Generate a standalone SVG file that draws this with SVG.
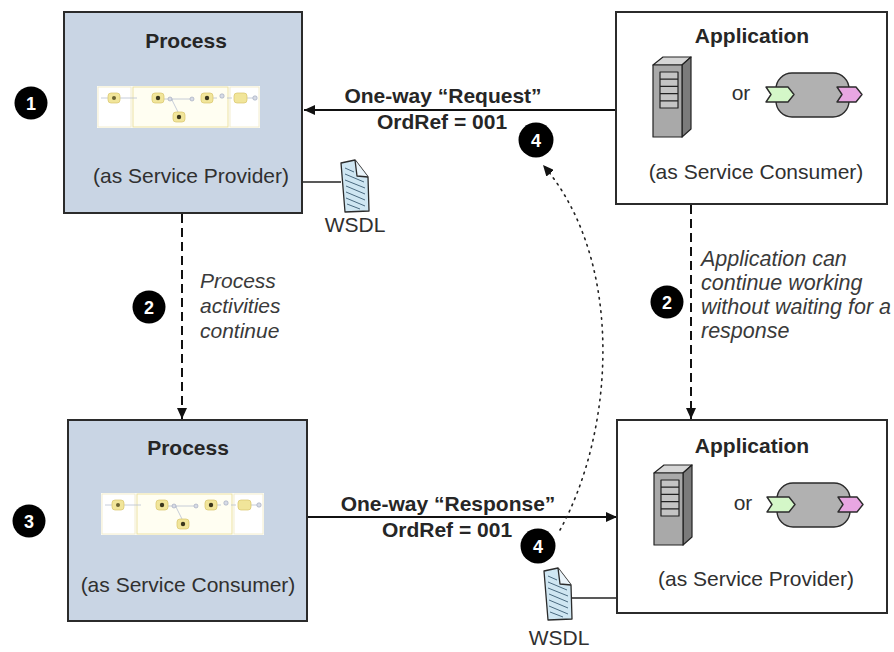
<svg xmlns="http://www.w3.org/2000/svg" xmlns:xlink="http://www.w3.org/1999/xlink" width="894" height="652" viewBox="0 0 894 652">
  <style>
    text { font-family: "Liberation Sans", Arial, sans-serif; fill: #262626; }
    .title { font-size: 21px; font-weight: bold; text-anchor: middle; }
    .role { font-size: 21px; text-anchor: middle; fill: #303030; }
    .msg { font-size: 21px; font-weight: bold; text-anchor: middle; }
    .note { font-size: 21px; font-style: italic; fill: #3a3a3a; }
    .note-wide { font-size: 21.5px; }
    .badge circle { fill: #000; }
    .badge text { font-size: 18px; font-weight: bold; fill: #fff; text-anchor: middle; }
    .proc { fill: #c9d5e4; stroke: #2b2b2b; stroke-width: 2; }
    .app { fill: #fff; stroke: #2b2b2b; stroke-width: 2; }
    .flow { stroke: #111; stroke-width: 1.8; fill: none; }
    .dash { stroke: #111; stroke-width: 2; fill: none; stroke-dasharray: 9 5; }
    .dots { stroke: #222; stroke-width: 1.6; fill: none; stroke-dasharray: 1.6 5.2; stroke-linecap: round; }
    .tie { stroke: #222; stroke-width: 1.6; fill: none; }
  </style>
  <defs>
    <marker id="head" markerUnits="userSpaceOnUse" markerWidth="12" markerHeight="10" refX="11" refY="5" orient="auto">
      <path d="M0,0 L11,5 L0,10 Z" fill="#111"/>
    </marker>
    <!-- small BPMN process thumbnail -->
    <g id="bpmn">
      <rect x="0" y="0" width="163" height="42" fill="#fdfdf8"/>
      <rect x="1" y="1" width="33" height="40" fill="#fff" stroke="#efe9c4" stroke-width="0.8"/>
      <rect x="36" y="1" width="95" height="40" fill="#fffef2" stroke="#eadf9c" stroke-width="0.9"/>
      <rect x="133" y="1" width="29" height="40" fill="#fff" stroke="#efe9c4" stroke-width="0.8"/>
      <path d="M4,12 H12 M22,12 H40 M66,13 H93 M112,12 H120 M130,12 H135 M150,12 H156 M75,14 L82,28 M72,13 L76,14" stroke="#b8c0d0" stroke-width="0.8" fill="none"/>
      <rect x="11" y="7" width="12" height="10" rx="3" fill="#f1e59a" stroke="#d8c46a" stroke-width="0.7"/>
      <circle cx="17" cy="12" r="2" fill="#6b6330"/>
      <rect x="55" y="7" width="12" height="10" rx="3" fill="#f1e59a" stroke="#d8c46a" stroke-width="0.7"/>
      <circle cx="61" cy="12" r="2.2" fill="#3a361c"/>
      <circle cx="73" cy="13" r="2" fill="#d7dbe6" stroke="#9aa3b8" stroke-width="0.6"/>
      <circle cx="95" cy="13" r="2" fill="#d7dbe6" stroke="#9aa3b8" stroke-width="0.6"/>
      <rect x="104" y="7" width="12" height="10" rx="3" fill="#f1e59a" stroke="#d8c46a" stroke-width="0.7"/>
      <circle cx="110" cy="12" r="2.2" fill="#3a361c"/>
      <circle cx="125" cy="10" r="2.2" fill="#d7dbe6" stroke="#9aa3b8" stroke-width="0.6"/>
      <rect x="137" y="7" width="13" height="10" rx="3" fill="#f1e59a" stroke="#d8c46a" stroke-width="0.7"/>
      <circle cx="158" cy="12" r="2.2" fill="#d7dbe6" stroke="#9aa3b8" stroke-width="0.6"/>
      <rect x="76" y="26" width="12" height="10" rx="3" fill="#f1e59a" stroke="#d8c46a" stroke-width="0.7"/>
      <circle cx="82" cy="31" r="2.2" fill="#3a361c"/>
    </g>
    <!-- server tower -->
    <g id="server" stroke="#222" stroke-width="1.2" stroke-linejoin="round">
      <polygon points="0,8 10,0 38,0 29,8" fill="#d6d6d6"/>
      <polygon points="29,8 38,0 38,72 29,80" fill="#7b7b7b"/>
      <rect x="0" y="8" width="29" height="72" fill="#a9a9a9"/>
      <rect x="7" y="15" width="18" height="36" fill="#c4c4c4"/>
      <path d="M7,22.2 H25 M7,29.4 H25 M7,36.6 H25 M7,43.8 H25" fill="none"/>
    </g>
    <!-- service component with in/out ports -->
    <g id="component" stroke="#2b2b2b" stroke-width="1.4" stroke-linejoin="round">
      <rect x="10" y="0" width="73" height="44" rx="16" fill="#b1b1b1"/>
      <polygon points="0,14 22,14 28,21.5 22,29 0,29 5,21.5" fill="#d4f7c8"/>
      <polygon points="71,14 90,14 96,21.5 90,29 71,29 76,21.5" fill="#e8a6e2"/>
    </g>
    <!-- WSDL document -->
    <g id="doc" stroke="#2b2b2b" stroke-width="1.3" stroke-linejoin="round">
      <path d="M1,3 L15,0 L28,17 L29,51 L5,52 Z" fill="#cfe6f2"/>
      <path d="M15,0 L17,16 L28,17" fill="#eaf4fa"/>
      <path d="M5,8 L14,12 M5,14 L24,22 M5,20 L25,28 M6,26 L25,34 M6,32 L25,40 M6,38 L25,46 M7,44 L20,49" stroke="#4a6a80" stroke-width="1" fill="none"/>
    </g>
  </defs>

  <!-- connectors -->
  <g id="connectors">
    <line class="flow" x1="616" y1="110" x2="304" y2="110" marker-end="url(#head)"/>
    <line class="flow" x1="308" y1="517" x2="617" y2="517" marker-end="url(#head)"/>
    <line class="dash" x1="182" y1="214" x2="182" y2="419" marker-end="url(#head)"/>
    <line class="dash" x1="691" y1="205" x2="691" y2="419" marker-end="url(#head)"/>
    <path class="dots" d="M560,530 C615,430 625,260 543,165" marker-end="url(#head)"/>
    <line class="tie" x1="303" y1="182" x2="341" y2="182"/>
    <line class="tie" x1="572" y1="598" x2="617" y2="598"/>
  </g>

  <!-- message labels -->
  <g id="request-label">
    <text class="msg" x="443" y="103">One-way “Request”</text>
    <text class="msg" x="442" y="129">OrdRef = 001</text>
  </g>
  <g id="response-label">
    <text class="msg" x="448" y="511">One-way “Response”</text>
    <text class="msg" x="447" y="537">OrdRef = 001</text>
  </g>

  <!-- process as service provider -->
  <g id="process-provider">
    <rect class="proc" x="64" y="12" width="238" height="201"/>
    <text class="title" x="186" y="48">Process</text>
    <use xlink:href="#bpmn" x="97" y="86"/>
    <text class="role" x="191" y="183">(as Service Provider)</text>
  </g>

  <!-- application as service consumer -->
  <g id="app-consumer">
    <rect class="app" x="616" y="12" width="271" height="192"/>
    <text class="title" x="752" y="43">Application</text>
    <use xlink:href="#server" x="653" y="57"/>
    <text class="role" x="741" y="100">or</text>
    <use xlink:href="#component" x="766" y="73"/>
    <text class="role" x="756" y="179">(as Service Consumer)</text>
  </g>

  <!-- process as service consumer -->
  <g id="process-consumer">
    <rect class="proc" x="68" y="420" width="239" height="201"/>
    <text class="title" x="188" y="455">Process</text>
    <use xlink:href="#bpmn" x="101" y="493"/>
    <text class="role" x="188" y="592">(as Service Consumer)</text>
  </g>

  <!-- application as service provider -->
  <g id="app-provider">
    <rect class="app" x="617" y="420" width="270" height="193"/>
    <text class="title" x="752" y="453">Application</text>
    <use xlink:href="#server" x="654" y="465"/>
    <text class="role" x="743" y="510">or</text>
    <use xlink:href="#component" x="767" y="483"/>
    <text class="role" x="756" y="586">(as Service Provider)</text>
  </g>

  <!-- WSDL documents -->
  <g id="wsdl-top">
    <use xlink:href="#doc" x="340" y="160"/>
    <text class="role" x="355" y="232">WSDL</text>
  </g>
  <g id="wsdl-bottom">
    <use xlink:href="#doc" x="543" y="568"/>
    <text class="role" x="559" y="645">WSDL</text>
  </g>

  <!-- step notes -->
  <g id="note-process">
    <text class="note" x="200" y="288">Process</text>
    <text class="note" x="200" y="313">activities</text>
    <text class="note" x="200" y="338">continue</text>
  </g>
  <g id="note-application">
    <text class="note note-wide" x="701" y="266">Application can</text>
    <text class="note note-wide" x="701" y="290">continue working</text>
    <text class="note note-wide" x="701" y="314">without waiting for a</text>
    <text class="note note-wide" x="701" y="338">response</text>
  </g>

  <!-- step badges -->
  <g id="badge-1" class="badge"><circle cx="31" cy="103" r="16.5"/><text x="31" y="109.5">1</text></g>
  <g id="badge-2a" class="badge"><circle cx="149" cy="307" r="16.5"/><text x="149" y="313.5">2</text></g>
  <g id="badge-2b" class="badge"><circle cx="667" cy="302" r="16.5"/><text x="667" y="308.5">2</text></g>
  <g id="badge-3" class="badge"><circle cx="29" cy="521" r="16.5"/><text x="29" y="527.5">3</text></g>
  <g id="badge-4a" class="badge"><circle cx="536" cy="140" r="17.5"/><text x="536" y="146.5">4</text></g>
  <g id="badge-4b" class="badge"><circle cx="538" cy="546" r="17.5"/><text x="538" y="552.5">4</text></g>
</svg>
